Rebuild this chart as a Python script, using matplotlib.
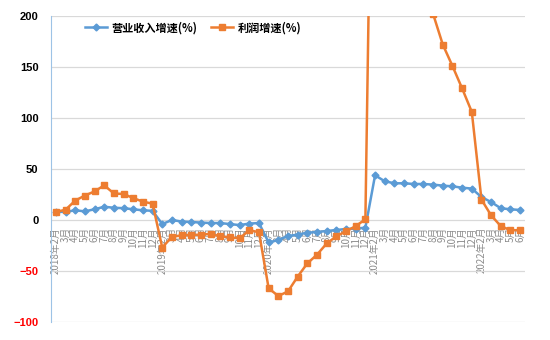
import matplotlib
matplotlib.use("Agg")
import matplotlib.pyplot as plt
import numpy as np

plt.rcParams['font.family'] = ['Noto Sans CJK SC', 'DejaVu Sans']

# month labels: each year starts at Feb (Jan-Feb combined)
years = [2018, 2019, 2020, 2021, 2022]
months_per_year = [list(range(2, 13))] * 4 + [list(range(2, 7))]

labels = []
for yr, ms in zip(years, months_per_year):
    for m in ms:
        labels.append(f"{yr}年{m}月" if m == 2 else f"{m}月")

revenue = [8, 8, 9.5, 8.5, 10.5, 13, 12, 11.6, 10.5, 9.5, 9,
           -4, 0, -1.5, -2, -2.5, -3, -3, -4, -5, -3.5, -3,
           -22, -19.6, -15.7, -14.3, -12.4, -11.8, -10.8, -9.8, -8.8, -8.5, -7.5,
           43.8, 38, 36, 36, 35.3, 35.3, 34.7, 33.7, 33, 31.7, 30.8,
           22.5, 17.6, 11.5, 10.5, 9.8]

profit = [8, 10, 19, 24, 28, 34, 26, 25.5, 21.5, 18, 16,
          -27, -16.5, -15, -14.5, -14.5, -13.5, -16, -17, -18, -10, -12,
          -67, -74.5, -70, -55.5, -42.5, -34, -23, -16, -11, -6, 0.7,
          620, 520, 440, 370, 310, 250, 202, 172, 151, 129, 106,
          20, 4.5, -6, -10, -10]

yticks = [-100, -50, 0, 50, 100, 150, 200]

x = np.arange(len(labels))

fig = plt.figure(figsize=(5.5, 3.4), dpi=100)
ax = fig.add_axes([51/550, 1-322/340, 474/550, 306/340])

ax.plot(x, revenue, color='#5B9BD5', lw=1.8, marker='D', ms=3.5,
        label='营业收入增速(%)', zorder=3)
ax.plot(x, profit, color='#ED7D31', lw=1.8, marker='s', ms=5,
        label='利润增速(%)', zorder=4)

ax.set_xlim(-0.5, len(labels) - 0.5)
ax.set_ylim(-100, 200)
ax.set_yticks(yticks)
ax.yaxis.grid(True, color='#D9D9D9', lw=0.9)
ax.set_axisbelow(True)

for s in ['top', 'right']:
    ax.spines[s].set_visible(False)
ax.spines['left'].set_color('#9DC3E6')
ax.spines['bottom'].set_position(('data', 0))
ax.spines['bottom'].set_color('none')

ax.set_xticks(x)
ax.set_xticklabels(labels, rotation=90, fontsize=7, color='#8C8C8C',
                   va='top', ha='center')
ax.tick_params(axis='x', length=0, pad=5)
ax.tick_params(axis='y', length=0, pad=9)
for t, v in zip(ax.get_yticklabels(), yticks):
    t.set_fontweight('bold')
    t.set_fontsize(8)
    t.set_family(['Liberation Sans', 'DejaVu Sans'])
    t.set_color('red' if v < 0 else 'black')

leg = ax.legend(loc='center', bbox_to_anchor=(0.3, 0.962), ncol=2,
                frameon=False, fontsize=8, handlelength=2.0,
                columnspacing=1.2, handletextpad=0.4)
for t in leg.get_texts():
    t.set_fontweight('bold')

fig.savefig('out.png', dpi=100)
